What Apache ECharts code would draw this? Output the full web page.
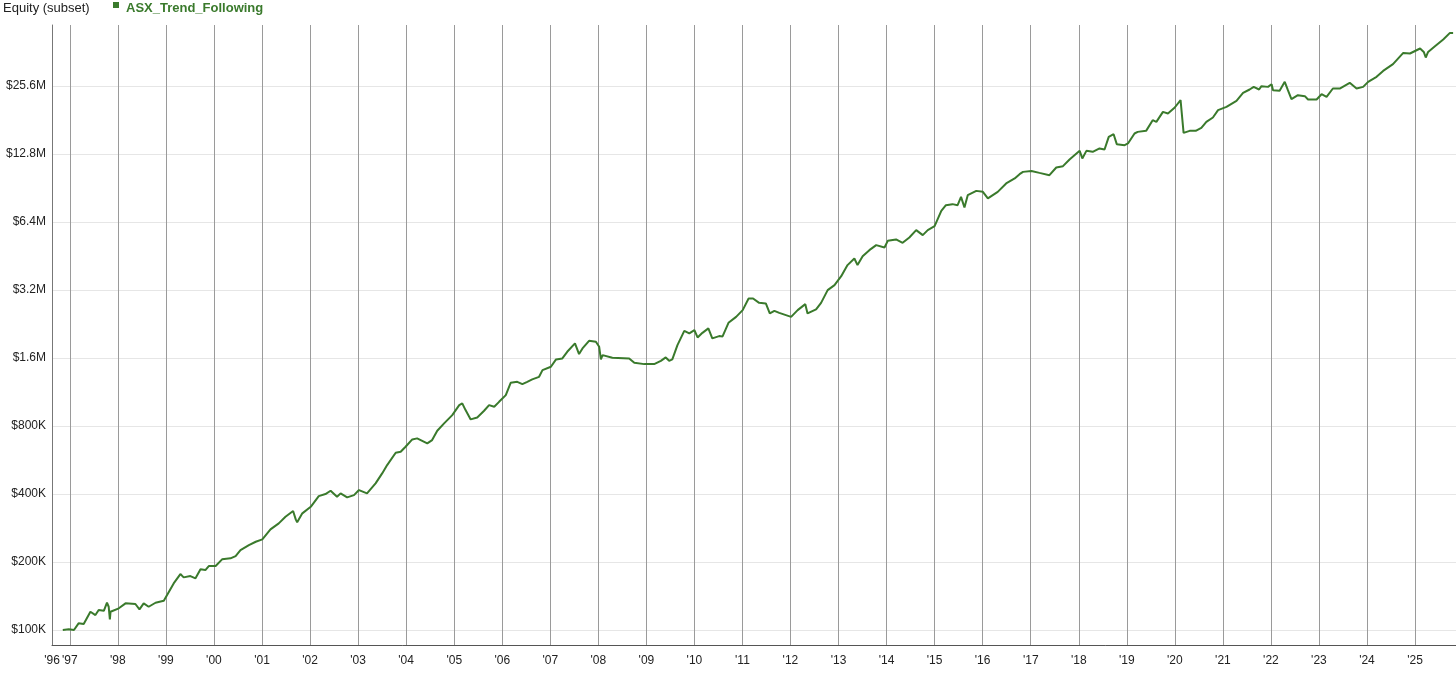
<!DOCTYPE html>
<html>
<head>
<meta charset="utf-8">
<script src="https://cdn.jsdelivr.net/npm/echarts@6/dist/echarts.min.js"></script>
<style>
html,body{margin:0;padding:0;background:#fff;}
#chart{width:1456px;height:673px;}
</style>
</head>
<body>
<div id="chart"></div>
<script>
const chartTitle = 'Equity (subset)';
const seriesName = 'ASX_Trend_Following';
const yTickValues = [100000, 200000, 400000, 800000, 1600000, 3200000, 6400000, 12800000, 25600000];
const yTickLabels = ['$100K', '$200K', '$400K', '$800K', '$1.6M', '$3.2M', '$6.4M', '$12.8M', '$25.6M'];
const xRange = ['1996-08-18', '2025-11-08'];

const dates = [
'1996-11-08','1996-12-24','1997-02-01','1997-03-08','1997-04-16','1997-06-06','1997-07-14','1997-08-08','1997-09-16','1997-10-10',
'1997-10-23','1997-11-01','1997-11-06','1998-01-08','1998-02-28','1998-05-14','1998-06-14','1998-07-16','1998-08-23','1998-10-14',
'1998-12-16','1999-01-10','1999-03-01','1999-04-21','1999-05-16','1999-07-06','1999-08-14','1999-09-21','1999-10-28','1999-11-23',
'2000-01-14','2000-03-03','2000-05-06','2000-06-14','2000-07-21','2000-09-23','2000-11-14','2001-01-03','2001-03-06','2001-05-08',
'2001-06-28','2001-08-25','2001-09-14','2001-09-25','2001-11-03','2002-01-06','2002-03-08','2002-04-28','2002-06-06','2002-07-25',
'2002-08-21','2002-10-10','2002-12-01','2003-01-08','2003-03-10','2003-05-14','2003-07-03','2003-08-10','2003-10-14','2003-11-21',
'2003-12-28','2004-02-17','2004-03-25','2004-04-21','2004-06-10','2004-07-17','2004-08-25','2004-10-16','2004-12-17','2005-02-08',
'2005-03-03','2005-03-28','2005-05-06','2005-06-25','2005-08-16','2005-09-23','2005-11-01','2005-12-08','2006-01-28','2006-03-06',
'2006-04-25','2006-06-03','2006-07-10','2006-08-17','2006-10-08','2006-11-03','2007-01-06','2007-02-14','2007-04-03','2007-05-10',
'2007-07-08','2007-08-08','2007-09-03','2007-10-23','2007-12-14','2008-01-08','2008-01-21','2008-02-03','2008-04-17','2008-08-23',
'2008-10-01','2008-12-16','2009-03-01','2009-04-21','2009-05-28','2009-06-23','2009-07-17','2009-08-25','2009-10-16','2009-11-23',
'2010-01-01','2010-01-25','2010-03-03','2010-04-17','2010-05-17','2010-07-08','2010-08-03','2010-09-17','2010-11-14','2011-01-03',
'2011-02-17','2011-03-23','2011-05-08','2011-06-28','2011-07-28','2011-09-01','2011-10-08','2012-01-06','2012-02-25','2012-04-23',
'2012-05-10','2012-07-14','2012-08-21','2012-10-10','2012-12-01','2013-01-21','2013-03-10','2013-05-01','2013-05-25','2013-07-03',
'2013-08-23','2013-10-14','2013-12-16','2014-01-10','2014-03-14','2014-05-03','2014-06-23','2014-08-14','2014-10-03','2014-11-10',
'2015-01-01','2015-02-21','2015-03-28','2015-05-17','2015-06-25','2015-07-21','2015-08-16','2015-09-10','2015-11-14','2016-01-03',
'2016-02-10','2016-04-25','2016-06-28','2016-09-01','2016-10-08','2016-11-03','2017-01-06','2017-03-08','2017-05-23','2017-07-14',
'2017-09-03','2017-10-23','2018-01-08','2018-01-28','2018-02-28','2018-04-17','2018-06-08','2018-07-16','2018-08-17','2018-09-23',
'2018-10-17','2018-12-16','2019-01-10','2019-03-01','2019-03-25','2019-05-28','2019-07-17','2019-08-14','2019-10-03','2019-11-10',
'2020-01-01','2020-02-14','2020-03-08','2020-04-23','2020-06-08','2020-07-21','2020-08-28','2020-10-17','2020-11-25','2021-01-28',
'2021-04-14','2021-06-03','2021-07-23','2021-08-23','2021-10-03','2021-10-21','2021-12-10','2022-01-06','2022-01-17','2022-03-08',
'2022-04-16','2022-05-10','2022-06-06','2022-07-25','2022-09-16','2022-10-10','2022-12-14','2023-01-21','2023-02-28','2023-04-17',
'2023-06-08','2023-08-23','2023-10-14','2023-12-03','2024-01-10','2024-03-14','2024-05-03','2024-07-17','2024-10-03','2024-11-23',
'2025-02-08','2025-03-08','2025-03-23','2025-04-10','2025-06-01','2025-08-03','2025-09-23','2025-10-17'
];

const equity = [
100000,100700,100000,107100,106300,120500,116500,122600,121700,132100,
126800,111500,120500,124800,131300,130400,123500,131300,126800,132100,
134800,142900,160900,177000,171100,173400,169400,185700,184300,192000,
192000,205600,207700,212600,226000,237800,246000,252100,279100,296700,
317400,336400,309000,300000,328600,351400,391900,400000,413800,389100,
402800,386700,395900,416700,402800,446000,493900,537500,609400,615600,
648000,698500,705800,693600,670800,693600,762600,822400,894900,991000,
1008400,941700,856600,874000,935200,991000,974000,1024600,1097300,1243500,
1256000,1227500,1256000,1287500,1322200,1415600,1464400,1579000,1595400,1706400,
1858600,1667000,1766500,1908800,1889600,1795400,1579000,1649700,1604700,1595400,
1525000,1505000,1505000,1556500,1611000,1556500,1579000,1826600,2112500,2057600,
2128400,1975300,2070400,2165600,1956000,2002500,1995000,2292600,2436700,2609700,
2940000,2940000,2811000,2793000,2523000,2591000,2538000,2436700,2609700,2774000,
2523000,2628000,2811000,3200000,3367000,3690000,4130000,4420000,4130000,4525000,
4810000,5062000,4945000,5290000,5366000,5183000,5476000,5899000,5606000,5899000,
6144000,7181000,7611000,7690000,7611000,8282000,7433000,8427000,8803000,8718000,
8151000,8718000,9496000,9996000,10440000,10686000,10790000,10576000,10332000,11175000,
11327000,12128000,13240000,12254000,13240000,13105000,13566000,13426000,15270000,15693000,
14175000,14030000,14275000,15803000,16067000,16235000,18102000,17792000,19700000,19390000,
20600000,22190000,15900000,16235000,16235000,16735000,17792000,18610000,20050000,20730000,
22030000,23900000,24750000,25420000,24750000,25600000,25420000,26130000,24580000,24450000,
26760000,24580000,22420000,23360000,23120000,22350000,22350000,23590000,22960000,25000000,
25000000,26500000,25000000,25420000,26760000,28160000,29920000,32040000,35950000,35730000,
37590000,36300000,34300000,36300000,38480000,41200000,44080000,44080000
];

const lineColor = '#3a7a2c';
const base = yTickValues[0];
const toAxis = v => Math.log2(v / base);   // log-2 scale relative to $100K
const seriesData = dates.map((d, i) => [d, toAxis(equity[i])]);

// split-line colour cycle: axis ticks every 0.02 from -0.22, visible line at each whole doubling
const Y_STEP = 0.02, Y_MIN = -0.22;
const gridCycle = [];
for (let i = 0; i < Math.round(1 / Y_STEP); i++) gridCycle.push('rgba(0,0,0,0)');
gridCycle[Math.round(-Y_MIN / Y_STEP)] = '#e6e6e6';

const chart = echarts.init(document.getElementById('chart'), null, {renderer: 'canvas'});
const font = 'Liberation Sans, Arial, sans-serif';

chart.setOption({
  animation: false,
  backgroundColor: '#ffffff',
  title: {
    text: chartTitle, left: -2, top: -3,
    textStyle: {fontSize: 13, fontWeight: 'normal', color: '#222', fontFamily: font}
  },
  legend: {
    data: [seriesName], left: 108, top: -3,
    icon: 'path://M0,0L6,0L6,6L0,6Z M8,13L8.01,13L8.01,13.01Z',
    itemWidth: 8, itemHeight: 13, itemGap: 5,
    textStyle: {fontSize: 13, fontWeight: 'bold', color: lineColor, fontFamily: font}
  },
  grid: {left: 52, right: 0, top: 25, bottom: 28, containLabel: false},
  xAxis: {
    type: 'time',
    min: xRange[0], max: xRange[1],
    minInterval: 365 * 24 * 3600 * 1000,
    maxInterval: 366 * 24 * 3600 * 1000,
    splitNumber: 30,
    axisLine: {show: true, onZero: false, lineStyle: {color: '#555', width: 1}},
    axisTick: {show: false},
    axisLabel: {
      color: '#222', fontSize: 12, fontFamily: font, margin: 10, showMinLabel: true, hideOverlap: false,
      formatter: v => "'" + String(new Date(v).getFullYear()).slice(2)
    },
    splitLine: {show: true, lineStyle: {color: '#9a9a9a', width: 1}}
  },
  yAxis: {
    type: 'value',
    min: Y_MIN, max: 8.90, interval: Y_STEP,
    axisLine: {show: true, lineStyle: {color: '#777', width: 1}},
    axisTick: {show: false},
    axisLabel: {
      color: '#222', fontSize: 12, fontFamily: font, margin: 6,
      formatter: v => {
        const idx = yTickValues.findIndex(t => Math.abs(toAxis(t) - v) < 1e-4);
        return idx >= 0 ? yTickLabels[idx] : '';
      }
    },
    splitLine: {show: true, lineStyle: {color: gridCycle, width: 1}}
  },
  series: [{
    name: seriesName,
    type: 'line',
    data: seriesData,
    showSymbol: false,
    symbol: 'none',
    lineStyle: {color: lineColor, width: 2},
    itemStyle: {color: lineColor}
  }]
});
</script>
</body>
</html>
